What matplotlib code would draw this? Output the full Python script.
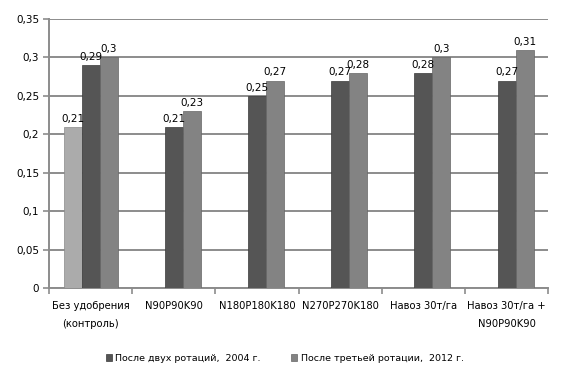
import numpy as np
import matplotlib.pyplot as plt

categories = ["Без удобрения\n(контроль)", "N90P90K90", "N180P180K180",
              "N270P270K180", "Навоз 30т/га", "Навоз 30т/га +\nN90P90K90"]
control = [0.21, None, None, None, None, None]
rot_2004 = [0.29, 0.21, 0.25, 0.27, 0.28, 0.27]
rot_2012 = [0.3, 0.23, 0.27, 0.28, 0.3, 0.31]
series_names = ["После двух ротаций,  2004 г.", "После третьей ротации,  2012 г."]
yticks = [0, 0.05, 0.1, 0.15, 0.2, 0.25, 0.3, 0.35]


def fmt(v):
    return ("%g" % v).replace(".", ",")


fig = plt.figure(figsize=(5.64, 3.81), dpi=100)
ax = fig.add_axes([0.087, 0.244, 0.885, 0.706])

x = np.arange(len(categories))
w = 0.216

vals0 = [np.nan if v is None else v for v in control]
b0 = ax.bar(x - w, vals0, w, color="#ababab", edgecolor="#8a8a8a", linewidth=0.5,
            label="_nolegend_", zorder=3)
b1 = ax.bar(x, rot_2004, w, color="#555555", edgecolor="#3a3a3a", linewidth=0.5,
            label=series_names[0], zorder=3)
b2 = ax.bar(x + w, rot_2012, w, color="#838383", edgecolor="#666666", linewidth=0.5,
            label=series_names[1], zorder=3)

for bs, vals in [(b0, control), (b1, rot_2004), (b2, rot_2012)]:
    for rect, v in zip(bs, vals):
        if v is None:
            continue
        ax.text(rect.get_x() + rect.get_width() / 2, v + 0.004, fmt(v),
                ha="center", va="bottom", fontsize=7.5, zorder=4)

ax.set_xlim(-0.5, len(categories) - 0.5)
ax.set_ylim(0, 0.35)
ax.set_yticks(yticks)
ax.set_yticklabels([fmt(t) for t in yticks], fontsize=7.5)
ax.yaxis.grid(True, color="#8c8c8c", linewidth=1.4, zorder=0)
ax.set_axisbelow(True)

ax.set_xticks(x)
ax.set_xticklabels(categories, fontsize=7.2, linespacing=2.0)
ax.tick_params(axis="x", length=0, pad=9)
ax.set_xticks(np.arange(len(categories) + 1) - 0.5, minor=True)
ax.tick_params(axis="x", which="minor", length=4, color="#8c8c8c", width=1.2)
ax.tick_params(axis="y", length=4, color="#8c8c8c", width=1.2, pad=3)

for side in ["top", "right"]:
    ax.spines[side].set_visible(False)
for side in ["left", "bottom"]:
    ax.spines[side].set_color("#8c8c8c")
    ax.spines[side].set_linewidth(1.4)

fig.legend(handles=[b1, b2], labels=series_names, loc="center",
           bbox_to_anchor=(0.505, 0.06), ncol=2, frameon=False, fontsize=6.8,
           handlelength=0.6, handleheight=0.9, columnspacing=3.2, handletextpad=0.4)

fig.savefig("out.png", dpi=100)
